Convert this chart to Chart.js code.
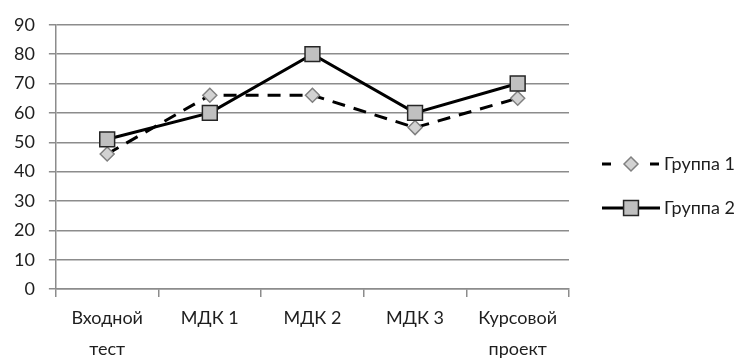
<!DOCTYPE html>
<html>
<head>
<meta charset="utf-8">
<script src="https://cdn.jsdelivr.net/npm/chart.js@4.4.0/dist/chart.umd.min.js"></script>
<style>
    html, body { margin: 0; padding: 0; background: #fff; }
</style>
</head>
<body>
<canvas id="resultsChart" width="742" height="360"></canvas>
<script>
// Chart data
const categories = [['Входной', 'тест'], 'МДК 1', 'МДК 2', 'МДК 3', ['Курсовой', 'проект']];
const seriesNames = ['Группа 1', 'Группа 2'];
const group1 = [46, 66, 66, 55, 65];
const group2 = [51, 60, 80, 60, 70];
const yMin = 0;
const yMax = 90;
const yStep = 10;

const textColor = '#1e1e1e';
const gridColor = '#8c8c8c';
const tickFont = { family: 'Lato', size: 18 };
const catFont = { family: 'Lato', size: 18, lineHeight: 1.72 };

// Legend on the right: line sample with the marker in the middle, like the original
const sideLegend = {
    id: 'sideLegend',
    afterDraw(chart) {
        const ctx = chart.ctx;
        const x0 = chart.chartArea.right + 33;
        const len = 58;
        chart.data.datasets.forEach((ds, i) => {
            const y = 164 + i * 44;
            const cx = x0 + len / 2;

            ctx.save();
            ctx.strokeStyle = ds.borderColor;
            ctx.lineWidth = ds.borderWidth;
            ctx.setLineDash(ds.borderDash ? [9, 39] : []);
            ctx.beginPath();
            ctx.moveTo(x0, y);
            ctx.lineTo(x0 + len, y);
            ctx.stroke();
            ctx.setLineDash([]);

            // marker
            const r = ds.pointRadius;
            ctx.fillStyle = ds.pointBackgroundColor;
            ctx.strokeStyle = ds.pointBorderColor;
            ctx.lineWidth = ds.pointBorderWidth;
            ctx.beginPath();
            if (ds.pointStyle === 'rectRot') {
                ctx.moveTo(cx - r, y);
                ctx.lineTo(cx, y - r);
                ctx.lineTo(cx + r, y);
                ctx.lineTo(cx, y + r);
                ctx.closePath();
            } else {
                const h = r * Math.SQRT1_2;
                ctx.rect(cx - h, y - h, 2 * h, 2 * h);
            }
            ctx.fill();
            ctx.stroke();

            // label
            ctx.fillStyle = textColor;
            ctx.font = tickFont.size + 'px ' + tickFont.family;
            ctx.textBaseline = 'middle';
            ctx.textAlign = 'left';
            ctx.fillText(ds.label, x0 + len + 4, y);
            ctx.restore();
        });
    }
};

const ctx = document.getElementById('resultsChart').getContext('2d');
new Chart(ctx, {
    type: 'line',
    data: {
        labels: categories,
        datasets: [{
            label: seriesNames[0],
            data: group1,
            borderColor: '#000000',
            borderWidth: 3,
            borderDash: [13, 9],
            pointStyle: 'rectRot',
            pointRadius: 7,
            pointBackgroundColor: '#d2d2d2',
            pointBorderColor: '#808080',
            pointBorderWidth: 1.5,
            order: 2
        }, {
            label: seriesNames[1],
            data: group2,
            borderColor: '#000000',
            borderWidth: 3,
            pointStyle: 'rect',
            pointRadius: 10.5,
            pointBackgroundColor: '#c0c0c0',
            pointBorderColor: '#262626',
            pointBorderWidth: 1.5,
            order: 1
        }]
    },
    options: {
        responsive: false,
        animation: false,
        layout: {
            padding: { left: 0, right: 173, top: 21, bottom: -11 }
        },
        plugins: {
            legend: { display: false },
            tooltip: { enabled: false }
        },
        scales: {
            x: {
                offset: true,
                grid: {
                    offset: true,
                    drawOnChartArea: false,
                    color: gridColor,
                    lineWidth: 1.5,
                    tickLength: 8
                },
                border: { color: gridColor, width: 1.5 },
                ticks: {
                    color: textColor,
                    font: catFont,
                    padding: 6,
                    maxRotation: 0,
                    autoSkip: false
                }
            },
            y: {
                min: yMin,
                max: yMax,
                grid: {
                    color: gridColor,
                    lineWidth: 1.5,
                    tickLength: 7
                },
                border: { color: gridColor, width: 1.5 },
                ticks: {
                    stepSize: yStep,
                    autoSkip: false,
                    color: textColor,
                    font: tickFont,
                    padding: 14
                }
            }
        }
    },
    plugins: [sideLegend]
});
</script>
</body>
</html>
